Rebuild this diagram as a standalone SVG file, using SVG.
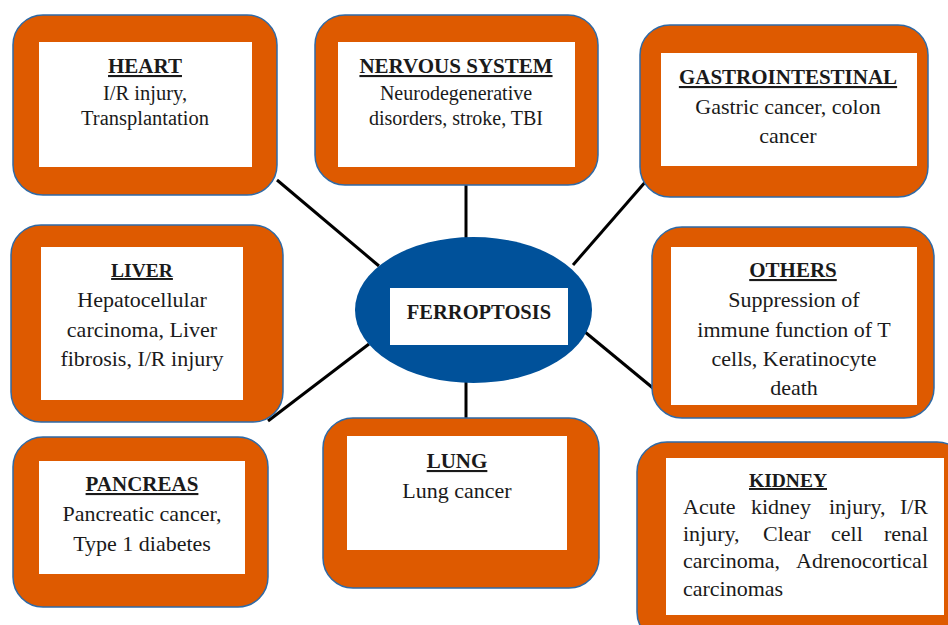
<svg xmlns="http://www.w3.org/2000/svg" width="948" height="625" viewBox="0 0 948 625">
<style>
.outer{fill:#DE5A00;stroke:#2F6AA6;stroke-width:1.5}
.inner{fill:#FFFFFF}
.t{font-family:"Liberation Serif","Times New Roman",serif;font-size:22px;fill:#1A1A1A;text-anchor:middle}
.s{font-size:20px}
.m{font-size:20.5px}
.h{font-weight:bold;text-decoration:underline;font-size:21px}
.hs{font-size:19.5px}
.l{text-anchor:start}
.e{text-anchor:end}
.c{stroke:#000;stroke-width:3;fill:none}
</style>
<rect width="948" height="625" fill="#FFFFFF"/>
<g id="connectors">
<line class="c" x1="277" y1="180" x2="379" y2="266"/>
<line class="c" x1="466" y1="185" x2="466" y2="238"/>
<line class="c" x1="647" y1="180" x2="573" y2="265"/>
<line class="c" x1="268" y1="421" x2="369" y2="344"/>
<line class="c" x1="585" y1="332" x2="665" y2="398"/>
<line class="c" x1="466" y1="367" x2="466" y2="418"/>
</g>
<g id="center">
<ellipse cx="473.5" cy="310" rx="118.5" ry="73" fill="#00519A"/>
<rect x="390" y="288" width="178" height="57" fill="#FFFFFF"/>
<text class="t m" x="479" y="319" font-weight="bold">FERROPTOSIS</text>
</g>
<g id="heart">
<rect class="outer" x="13" y="15" width="264" height="180" rx="30"/>
<rect class="inner" x="39" y="42" width="213" height="125"/>
<text class="t h" x="145" y="73">HEART</text>
<text class="t m" x="145" y="100">I/R injury,</text>
<text class="t m" x="145" y="125">Transplantation</text>
</g>
<g id="nervous">
<rect class="outer" x="315" y="15" width="283" height="170" rx="30"/>
<rect class="inner" x="338" y="42" width="237" height="125"/>
<text class="t h" x="456" y="73">NERVOUS SYSTEM</text>
<text class="t s" x="456" y="100">Neurodegenerative</text>
<text class="t s" x="456" y="125">disorders, stroke, TBI</text>
</g>
<g id="gastro">
<rect class="outer" x="640" y="25" width="288" height="172" rx="30"/>
<rect class="inner" x="661" y="53" width="256" height="113"/>
<text class="t h" x="788" y="84">GASTROINTESTINAL</text>
<text class="t" x="788" y="114">Gastric cancer, colon</text>
<text class="t" x="788" y="143">cancer</text>
</g>
<g id="liver">
<rect class="outer" x="11" y="225" width="272" height="197" rx="30"/>
<rect class="inner" x="41" y="247" width="202" height="153"/>
<text class="t h hs" x="142" y="277">LIVER</text>
<text class="t" x="142" y="307">Hepatocellular</text>
<text class="t" x="142" y="337">carcinoma, Liver</text>
<text class="t" x="142" y="366">fibrosis, I/R injury</text>
</g>
<g id="others">
<rect class="outer" x="652" y="227" width="282" height="191" rx="30"/>
<rect class="inner" x="671" y="247" width="246" height="158"/>
<text class="t h" x="793" y="277">OTHERS</text>
<text class="t" x="794" y="307">Suppression of</text>
<text class="t" x="794" y="337">immune function of T</text>
<text class="t" x="794" y="366">cells, Keratinocyte</text>
<text class="t" x="794" y="395">death</text>
</g>
<g id="pancreas">
<rect class="outer" x="13" y="437" width="255" height="170" rx="30"/>
<rect class="inner" x="39" y="461" width="206" height="113"/>
<text class="t h" x="142" y="491">PANCREAS</text>
<text class="t" x="142" y="521">Pancreatic cancer,</text>
<text class="t" x="142" y="551">Type 1 diabetes</text>
</g>
<g id="lung">
<rect class="outer" x="323" y="418" width="276" height="170" rx="30"/>
<rect class="inner" x="347" y="436" width="220" height="114"/>
<text class="t h" x="457" y="468">LUNG</text>
<text class="t" x="457" y="498">Lung cancer</text>
</g>
<g id="kidney">
<rect class="outer" x="637" y="442" width="330" height="200" rx="30"/>
<rect class="inner" x="666" y="458" width="278" height="157"/>
<text class="t h hs" x="788" y="487">KIDNEY</text>
<text class="t l" y="514"><tspan x="683">Acute</tspan> <tspan x="751">kidney</tspan> <tspan x="829">injury,</tspan> <tspan class="e" x="928">I/R</tspan></text>
<text class="t l" y="541"><tspan x="683">injury,</tspan> <tspan x="763">Clear</tspan> <tspan x="831">cell</tspan> <tspan class="e" x="928">renal</tspan></text>
<text class="t l" y="568"><tspan x="683">carcinoma,</tspan> <tspan class="e" x="928">Adrenocortical</tspan></text>
<text class="t l" x="683" y="596">carcinomas</text>
</g>
</svg>
